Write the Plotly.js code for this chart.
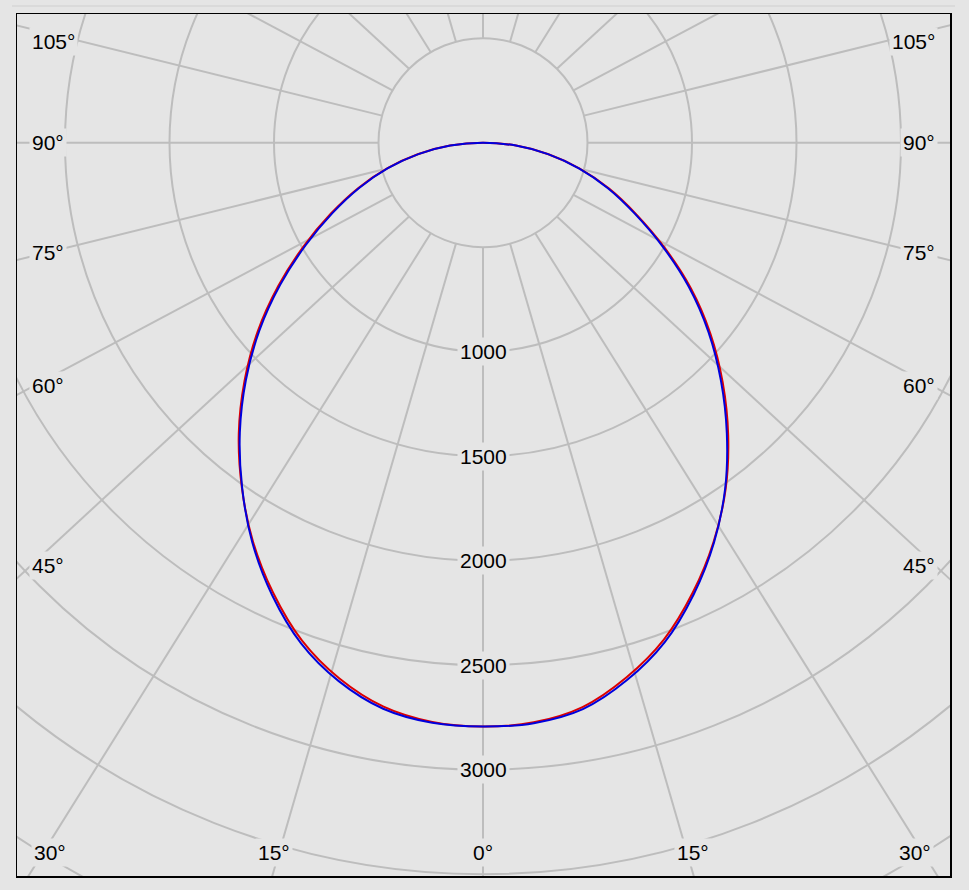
<!DOCTYPE html>
<html><head><meta charset="utf-8">
<script src="https://cdn.plot.ly/plotly-3.0.1.min.js"></script>
<style>html,body{margin:0;padding:0;background:#e5e5e5;}#chart{width:969px;height:890px;}</style>
</head><body><div id="chart"></div>
<script>
// ---- data (gamma angle in degrees; negative = left half-plane) ----
const gamma = [-90,-85,-80,-75,-70,-65,-60,-55,-50,-45,-40,-35,-30,-25,-20,-15,-10,-5,0,
               5,10,15,20,25,30,35,40,45,50,55,60,65,70,75,80,85,90];
const intensityBlue = [0,157,314,471,629,794,979,1184,1396,1604,1810,2010,2208,2388,2548,2667,2750,2786,2793,
                       2788,2752,2662,2543,2385,2210,2020,1815,1610,1408,1202,992,800,636,475,316,158,0];
const intensityRed  = [0,159,317,475,636,804,991,1196,1408,1614,1818,2012,2202,2376,2534,2654,2740,2782,2793,
                       2784,2742,2649,2530,2375,2206,2024,1825,1622,1420,1214,1002,808,642,479,318,159,0];
const ringValues = [500,1000,1500,2000,2500,3000,3500,4000,4500];
const ringLabels = [1000,1500,2000,2500,3000];
const spokeAngles = [0,15,30,45,60,75,90,105,120,135,150,165,180,195,210,225,240,255,270,285,300,315,330,345];
const sideLabels = ['105°','90°','75°','60°','45°'];
const bottomLabels = ['30°','15°','0°','15°','30°'];

// ---- layout geometry ----
const W = 969, H = 890;
const plotL = 17, plotR = 950, plotT = 14, plotB = 876;
const cx = 483, cy = 142.7;           // pixel position of the pole
const u = 500 / 104.5;                 // intensity units per pixel
const xRange = [-(cx - plotL) * u, (plotR - cx) * u];
const yRange = [-(plotB - cy) * u, (cy - plotT) * u];
const BG = '#e5e5e5', GRID = '#bdbdbd';
const FONT = {family: 'Liberation Sans, Arial, sans-serif', size: 21, color: '#000'};
const SPOKE_FAR = 6000, SPOKE_STRETCH = 1.077;   // spokes fan out slightly wider toward the frame
const rad = d => d * Math.PI / 180;

function curve(vals, color) {
  return {
    type: 'scatter', mode: 'lines', hoverinfo: 'skip',
    x: gamma.map((g, i) => vals[i] * Math.sin(rad(g))),
    y: gamma.map((g, i) => -vals[i] * Math.cos(rad(g))),
    line: {color: color, width: 2, shape: 'spline', smoothing: 1}
  };
}

const shapes = [];
ringValues.forEach(r => shapes.push({
  type: 'circle', xref: 'x', yref: 'y', x0: -r, x1: r, y0: -r, y1: r,
  line: {color: GRID, width: 2}, layer: 'below'
}));
spokeAngles.forEach(a => {
  const r0 = ringValues[0];
  shapes.push({
    type: 'line', xref: 'x', yref: 'y',
    x0: r0 * Math.sin(rad(a)), y0: -r0 * Math.cos(rad(a)),
    x1: SPOKE_FAR * SPOKE_STRETCH * Math.sin(rad(a)), y1: -SPOKE_FAR * Math.cos(rad(a)),
    line: {color: GRID, width: 2}, layer: 'below'
  });
});
// thin separator line at top of the window
shapes.push({type: 'line', xref: 'paper', yref: 'paper',
  x0: (12 - plotL) / (plotR - plotL), x1: (955 - plotL) / (plotR - plotL),
  y0: (plotB - 6) / (plotB - plotT), y1: (plotB - 6) / (plotB - plotT),
  line: {color: '#cfcfcf', width: 1}});

const annotations = [];
ringLabels.forEach(v => annotations.push({
  x: 0, y: -v, xref: 'x', yref: 'y', text: String(v), showarrow: false,
  font: FONT, bgcolor: BG, borderpad: 2, xanchor: 'center', yanchor: 'middle'
}));
const px2paperX = px => (px - plotL) / (plotR - plotL);
const px2paperY = py => (plotB - py) / (plotB - plotT);
const sideY = [42, 142, 252, 385, 565];
sideLabels.forEach((t, i) => {
  annotations.push({x: px2paperX(29), y: px2paperY(sideY[i]), xref: 'paper', yref: 'paper',
    text: t, showarrow: false, font: FONT, bgcolor: BG, borderpad: 2, xanchor: 'left', yanchor: 'middle'});
  annotations.push({x: px2paperX(938), y: px2paperY(sideY[i]), xref: 'paper', yref: 'paper',
    text: t, showarrow: false, font: FONT, bgcolor: BG, borderpad: 2, xanchor: 'right', yanchor: 'middle'});
});
const bottomX = [50, 274, 483, 693, 915];
bottomLabels.forEach((t, i) => annotations.push({
  x: px2paperX(bottomX[i]), y: px2paperY(852), xref: 'paper', yref: 'paper',
  text: t, showarrow: false, font: FONT, bgcolor: BG, borderpad: 2, xanchor: 'center', yanchor: 'middle'
}));

const axisCommon = {showgrid: false, zeroline: false, showticklabels: false, ticks: '',
  showline: true, mirror: true, linecolor: '#000', linewidth: 1.5, fixedrange: true};

Plotly.newPlot('chart', [curve(intensityRed, '#dd0000'), curve(intensityBlue, '#0000dd')], {
  width: W, height: H,
  margin: {l: plotL, r: W - plotR, t: plotT, b: H - plotB, pad: 0},
  paper_bgcolor: BG, plot_bgcolor: BG,
  showlegend: false, hovermode: false,
  xaxis: Object.assign({range: xRange}, axisCommon),
  yaxis: Object.assign({range: yRange}, axisCommon),
  shapes: shapes, annotations: annotations
}, {displayModeBar: false, staticPlot: true});
</script></body></html>
